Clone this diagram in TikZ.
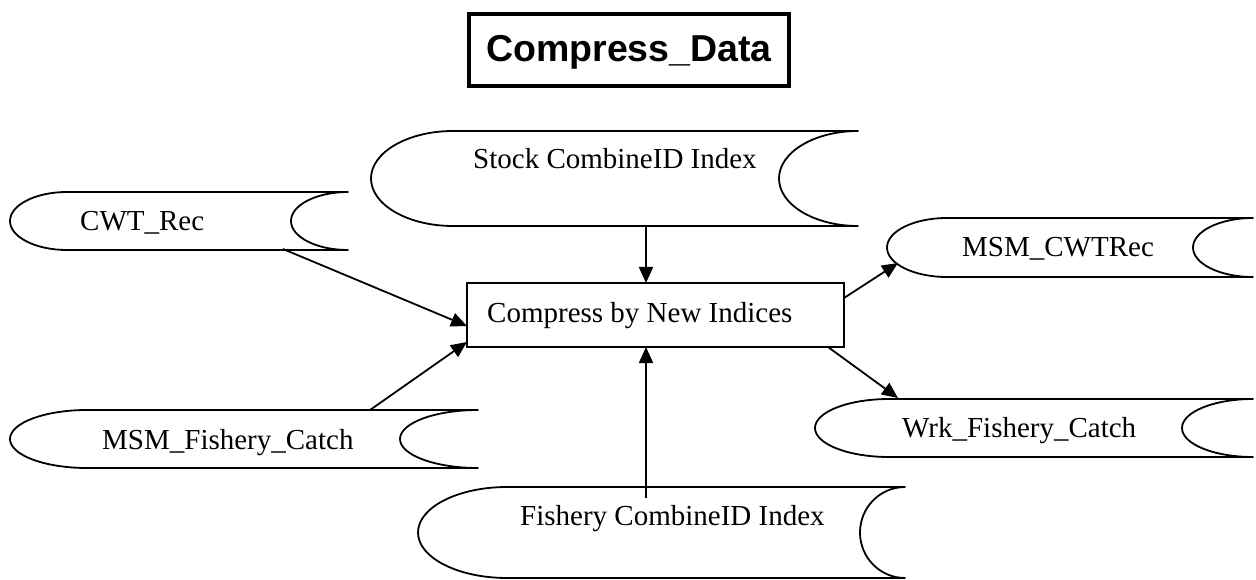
\documentclass[tikz,border=0pt]{standalone}
\usepackage{fontspec}
\setmainfont{Liberation Serif}
\newfontfamily\titlefont{Liberation Sans}
\usetikzlibrary{arrows.meta}
\newcommand\storedata[6]{% xl, xr, yt, yb, dl, dr
  \pgfmathsetmacro\sdym{(#3+#4)/2}%
  \pgfmathsetmacro\sdry{(#4-#3)/2}%
  \draw[storeline] ({#1+#5},#3) -- (#2,#3)
    .. controls ({#2-0.552*#6},#3) and ({#2-#6},{\sdym-0.552*\sdry}) .. ({#2-#6},\sdym)
    .. controls ({#2-#6},{\sdym+0.552*\sdry}) and ({#2-0.552*#6},#4) .. (#2,#4)
    -- ({#1+#5},#4)
    .. controls ({#1+0.448*#5},#4) and (#1,{\sdym+0.552*\sdry}) .. (#1,\sdym)
    .. controls (#1,{\sdym-0.552*\sdry}) and ({#1+0.448*#5},#3) .. cycle;%
}
\tikzset{
  storeline/.style={draw=black, fill=white, line width=1.8pt, line join=round},
  lbl/.style={anchor=base west, inner sep=0pt, font=\fontsize{29}{34}\selectfont},
  conn/.style={line width=1.8pt, -{Triangle[length=16pt,width=14pt]}},
  procbox/.style={draw=black, fill=white, line width=1.8pt, inner sep=0pt},
  titlebox/.style={draw=black, fill=white, line width=4pt, inner sep=0pt}
}
\begin{document}
\begin{tikzpicture}[x=1pt,y=-1pt]
\useasboundingbox (0,0) rectangle (1256,580);
% title
\node[titlebox, minimum width=320pt, minimum height=72pt] (titlebox) at (629,50) {};
\node[anchor=base, inner sep=0pt, font=\titlefont\bfseries\fontsize{37.5}{44}\selectfont] (title) at (629,62) {Compress\_Data};
% data stores
\storedata{371}{858}{131}{226}{82}{79}
\node[lbl] (stock) at (473,169) {Stock CombineID Index};
\storedata{10}{348}{192}{250}{57}{57}
\node[lbl] (cwt) at (80,231) {CWT\_Rec};
\storedata{887}{1253}{218}{277}{60}{60}
\node[lbl] (msmcwt) at (962,257) {MSM\_CWTRec};
\storedata{10}{478}{410}{468}{77}{78}
\node[lbl] (msmfish) at (102,449) {MSM\_Fishery\_Catch};
\storedata{815}{1253}{399}{457}{74}{71}
\node[lbl] (wrk) at (902,437) {Wrk\_Fishery\_Catch};
\storedata{418}{905}{487}{578}{89}{45}
\node[lbl] (fish) at (520,525) {Fishery CombineID Index};
% process
\node[procbox, minimum width=377pt, minimum height=64pt] (proc) at (655.5,315) {};
\node[lbl] (proctext) at (487,322) {Compress by New Indices};
% connector end points
\coordinate (cwtout) at (283,249);
\coordinate (procin1) at (467,326);
\coordinate (msmfout) at (370,410);
\coordinate (procin2) at (467,342);
\coordinate (stockout) at (646,226);
\coordinate (procintop) at (646,283);
\coordinate (fishout) at (646,498);
\coordinate (procinbot) at (646,347);
\coordinate (procout1) at (844,298);
\coordinate (msmcwtin) at (898,263);
\coordinate (procout2) at (828,347);
\coordinate (wrkin) at (898,398);
\draw[conn] (cwtout) -- (procin1);
\draw[conn] (msmfout) -- (procin2);
\draw[conn] (stockout) -- (procintop);
\draw[conn] (fishout) -- (procinbot);
\draw[conn] (procout1) -- (msmcwtin);
\draw[conn] (procout2) -- (wrkin);
\end{tikzpicture}
\end{document}
